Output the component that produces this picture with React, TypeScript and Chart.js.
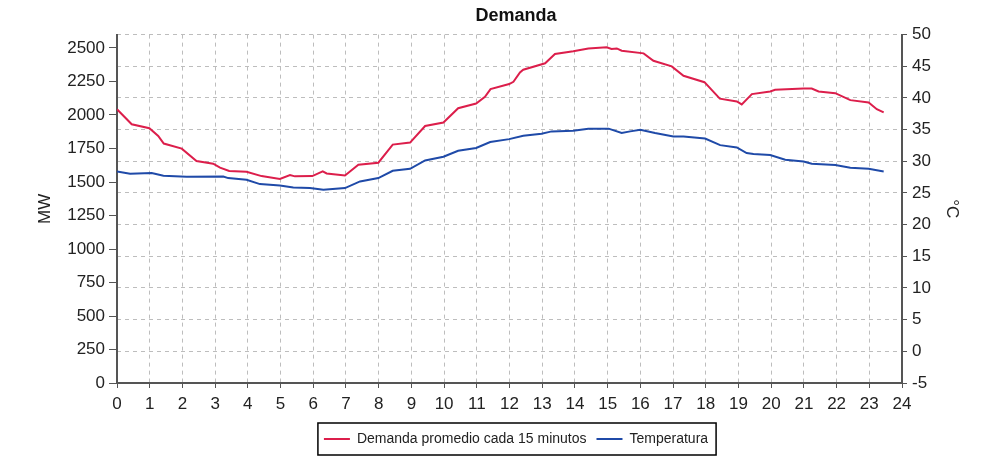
import React, { useEffect, useRef } from 'react';
import { Chart, registerables } from 'chart.js';

Chart.register(...registerables);

// hour of day, MW (demand)
const demandHours = [0, 0.45, 0.99, 1.26, 1.43, 1.98, 2.43, 2.94, 3.15, 3.43, 3.96, 4.42, 4.98, 5.29, 5.44, 5.97, 6.29, 6.41, 6.97, 7.38, 7.99, 8.43, 8.96, 9.42, 9.98, 10.43, 10.98, 11.25, 11.42, 11.99, 12.12, 12.32, 12.42, 13.09, 13.39, 13.95, 14.41, 14.97, 15.12, 15.28, 15.43, 16.1, 16.4, 16.96, 17.32, 17.96, 18.43, 18.95, 19.1, 19.41, 19.97, 20.12, 20.99, 21.24, 21.45, 21.96, 22.42, 22.98, 23.23, 23.44];
const demandMW = [2043, 1931, 1901, 1844, 1787, 1749, 1657, 1637, 1607, 1582, 1577, 1544, 1522, 1552, 1542, 1544, 1579, 1564, 1549, 1629, 1644, 1779, 1794, 1918, 1944, 2051, 2086, 2135, 2193, 2231, 2248, 2318, 2338, 2386, 2455, 2475, 2497, 2505, 2493, 2497, 2480, 2460, 2405, 2363, 2293, 2245, 2122, 2101, 2079, 2156, 2176, 2188, 2198, 2198, 2176, 2163, 2111, 2093, 2043, 2019];

// hour of day, degrees C
const tempHours = [0, 0.4, 1.06, 1.42, 2.13, 3.25, 3.4, 3.96, 4.37, 4.98, 5.39, 5.9, 6.31, 6.97, 7.43, 7.99, 8.43, 8.96, 9.42, 9.98, 10.43, 10.98, 11.41, 11.99, 12.42, 12.98, 13.29, 13.95, 14.41, 15.03, 15.43, 15.69, 16.0, 16.45, 17.01, 17.32, 17.98, 18.44, 18.95, 19.25, 19.46, 19.97, 20.43, 20.99, 21.24, 21.96, 22.42, 22.98, 23.44];
const tempC = [28.4, 28.03, 28.14, 27.72, 27.56, 27.61, 27.35, 27.08, 26.4, 26.18, 25.87, 25.77, 25.5, 25.77, 26.82, 27.35, 28.5, 28.82, 30.14, 30.72, 31.67, 32.1, 33.04, 33.5, 34.04, 34.36, 34.72, 34.83, 35.15, 35.15, 34.47, 34.72, 34.99, 34.47, 33.93, 33.93, 33.6, 32.55, 32.19, 31.3, 31.15, 30.99, 30.25, 29.98, 29.61, 29.41, 28.98, 28.82, 28.4];

const FONT = "'Liberation Sans', Arial, sans-serif";
const AXIS = '#555';
const GRID = '#bdbdbd';

// draws the frame round the legend items
const legendFrame = {
  id: 'legendFrame',
  afterDraw(chart: any) {
    const boxes = chart.legend?.legendHitBoxes;
    if (!boxes || !boxes.length) return;
    const first = boxes[0];
    const last = boxes[boxes.length - 1];
    const cy = first.top + first.height / 2;
    const ctx = chart.ctx;
    ctx.save();
    ctx.strokeStyle = '#000';
    ctx.lineWidth = 1.5;
    ctx.strokeRect(first.left - 6, cy - 16, last.left + last.width + 8 - (first.left - 6), 32);
    ctx.restore();
  },
};

const plain = (v: number | string) => String(v);

export default function App() {
  const chartRef = useRef<HTMLCanvasElement | null>(null);
  const chartInstanceRef = useRef<Chart | null>(null);

  useEffect(() => {
    if (chartInstanceRef.current) {
      chartInstanceRef.current.destroy();
    }
    if (!chartRef.current) return;

    Chart.defaults.font.family = FONT;
    Chart.defaults.color = '#222';

    chartInstanceRef.current = new Chart(chartRef.current, {
      type: 'line',
      data: {
        datasets: [
          {
            label: 'Demanda promedio cada 15 minutos',
            data: demandHours.map((h, i) => ({ x: h, y: demandMW[i] })),
            borderColor: '#dc1e4b',
            backgroundColor: '#dc1e4b',
            borderWidth: 2,
            pointRadius: 0,
            yAxisID: 'y',
          },
          {
            label: 'Temperatura',
            data: tempHours.map((h, i) => ({ x: h, y: tempC[i] })),
            borderColor: '#1f4aa8',
            backgroundColor: '#1f4aa8',
            borderWidth: 2,
            pointRadius: 0,
            yAxisID: 'y1',
          },
        ],
      },
      options: {
        animation: false,
        responsive: true,
        maintainAspectRatio: false,
        layout: { padding: { left: 32, right: 0, top: 0, bottom: 17 } },
        plugins: {
          title: {
            display: true,
            text: 'Demanda',
            color: '#111',
            font: { size: 18, weight: 'bold' },
            padding: { top: 5, bottom: 8 },
          },
          legend: {
            position: 'bottom',
            labels: {
              usePointStyle: true,
              pointStyle: 'line',
              pointStyleWidth: 26,
              padding: 10,
              color: '#222',
              font: { size: 14 },
            },
          },
          tooltip: { enabled: false },
        },
        scales: {
          x: {
            type: 'linear',
            min: 0,
            max: 24,
            ticks: { stepSize: 1, autoSkip: false, maxRotation: 0, padding: 6, font: { size: 17 }, callback: plain },
            grid: { color: GRID, tickColor: AXIS, tickLength: 5 },
            border: { color: AXIS, width: 2, dash: [4, 4] },
            afterFit(scale: any) {
              scale.height = 39;
            },
          },
          y: {
            position: 'left',
            min: 0,
            max: 2600,
            ticks: { stepSize: 250, includeBounds: false, padding: 4, font: { size: 17 }, callback: plain },
            grid: { drawOnChartArea: false, tickColor: AXIS, tickLength: 8 },
            border: { color: AXIS, width: 2 },
            title: { display: true, text: 'MW', font: { size: 17 }, padding: { top: 3, bottom: 0 } },
            afterFit(scale: any) {
              scale.width = 85;
            },
          },
          y1: {
            position: 'right',
            min: -5,
            max: 50,
            ticks: { stepSize: 5, padding: 5, font: { size: 17 }, callback: plain },
            grid: { color: GRID, tickColor: AXIS, tickLength: 5 },
            border: { color: AXIS, width: 2, dash: [4, 4] },
            title: { display: true, text: '°C', font: { size: 17 }, padding: { top: 38, bottom: 0 } },
            afterFit(scale: any) {
              scale.width = 98;
            },
          },
        },
      },
      plugins: [legendFrame],
    });

    return () => {
      if (chartInstanceRef.current) {
        chartInstanceRef.current.destroy();
        chartInstanceRef.current = null;
      }
    };
  }, []);

  return (
    <div style={{ position: 'fixed', left: 0, top: 0, width: 1000, height: 473, background: '#fff' }}>
      <canvas ref={chartRef} />
    </div>
  );
}
